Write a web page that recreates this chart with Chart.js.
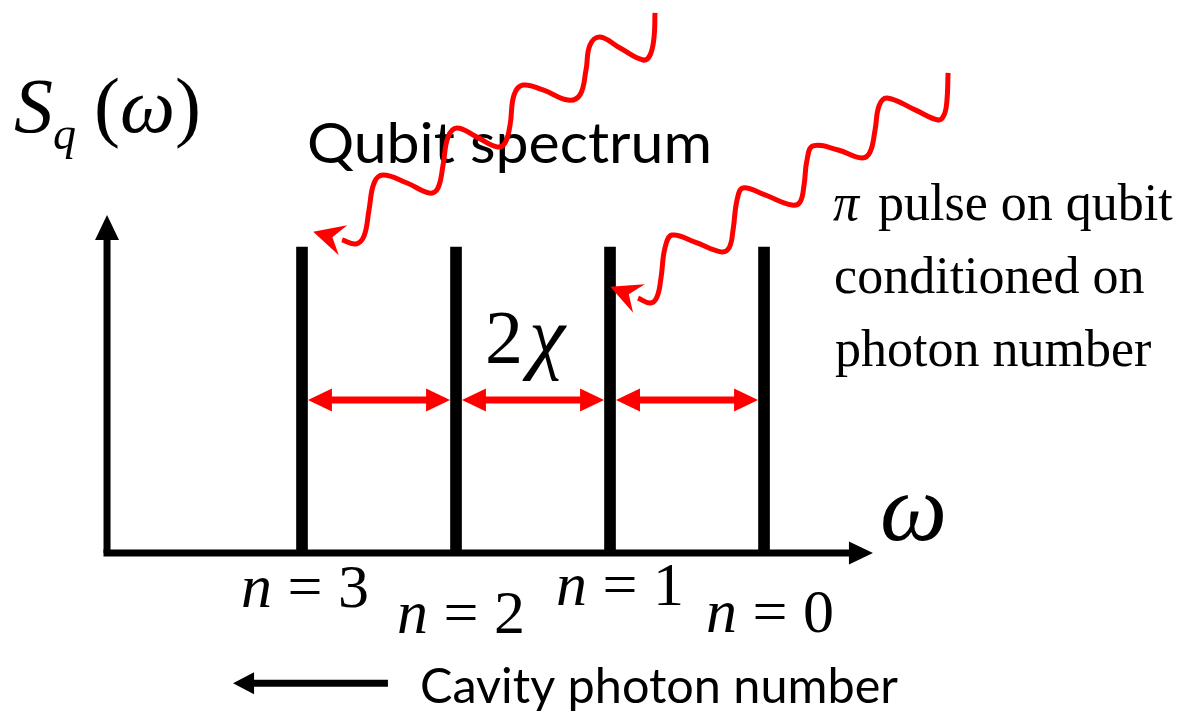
<!DOCTYPE html>
<html>
<head>
<meta charset="utf-8">
<title>Qubit spectrum</title>
<script src="https://cdn.jsdelivr.net/npm/chart.js@4.4.1/dist/chart.umd.min.js"></script>
<style>
  html, body { margin: 0; padding: 0; background: #fff; }
  #chart { display: block; }
</style>
</head>
<body>
<canvas id="chart" width="1184" height="711"></canvas>
<script>
// ========================================
// 데이터: 광자수별 큐빗 스펙트럼 선 (ω 단위 = 2χ)
// ========================================
const photonNumbers = [3, 2, 1, 0];
const peakFreq = [1, 2, 3, 4];
const peakHeight = [1, 1, 1, 1];

// π 펄스 물결선 (n=3 쪽, n=1 쪽)
const pulseToN3 = [
  { x: 3.292, y: 1.765 }, { x: 3.286, y: 1.686 }, { x: 3.260, y: 1.627 }, { x: 3.214, y: 1.611 },
  { x: 3.065, y: 1.650 }, { x: 2.935, y: 1.686 }, { x: 2.870, y: 1.660 }, { x: 2.844, y: 1.578 },
  { x: 2.805, y: 1.497 }, { x: 2.727, y: 1.480 }, { x: 2.565, y: 1.513 }, { x: 2.435, y: 1.529 },
  { x: 2.377, y: 1.497 }, { x: 2.351, y: 1.399 }, { x: 2.318, y: 1.340 }, { x: 2.266, y: 1.327 },
  { x: 2.136, y: 1.359 }, { x: 2.006, y: 1.389 }, { x: 1.948, y: 1.359 }, { x: 1.916, y: 1.268 },
  { x: 1.883, y: 1.193 }, { x: 1.831, y: 1.176 }, { x: 1.682, y: 1.209 }, { x: 1.526, y: 1.235 },
  { x: 1.468, y: 1.209 }, { x: 1.435, y: 1.121 }, { x: 1.403, y: 1.036 }, { x: 1.351, y: 1.010 },
  { x: 1.260, y: 1.023 }
];
const pulseToN1 = [
  { x: 5.195, y: 1.569 }, { x: 5.188, y: 1.480 }, { x: 5.169, y: 1.431 }, { x: 5.130, y: 1.415 },
  { x: 4.981, y: 1.448 }, { x: 4.799, y: 1.487 }, { x: 4.747, y: 1.461 }, { x: 4.721, y: 1.382 },
  { x: 4.688, y: 1.310 }, { x: 4.636, y: 1.291 }, { x: 4.481, y: 1.317 }, { x: 4.318, y: 1.330 },
  { x: 4.279, y: 1.284 }, { x: 4.260, y: 1.203 }, { x: 4.234, y: 1.147 }, { x: 4.182, y: 1.137 },
  { x: 4.006, y: 1.170 }, { x: 3.864, y: 1.193 }, { x: 3.825, y: 1.154 }, { x: 3.799, y: 1.056 },
  { x: 3.773, y: 0.997 }, { x: 3.721, y: 0.984 }, { x: 3.552, y: 1.016 }, { x: 3.403, y: 1.039 },
  { x: 3.357, y: 0.997 }, { x: 3.331, y: 0.899 }, { x: 3.305, y: 0.837 }, { x: 3.260, y: 0.817 },
  { x: 3.182, y: 0.833 }
];

// 축 범위
const X_MIN = -0.961, X_MAX = 6.727;
const Y_MIN = -0.516, Y_MAX = 1.807;
const GAP_Y = 0.5;        // 2χ 화살표 높이
const GAP_INSET = 0.188;  // 화살촉 밑변까지 거리

const RED = '#ff0000';
const SERIF = '"Liberation Serif", "Times New Roman", serif';
const SANS = 'Lato, "Open Sans", sans-serif';

// ========================================
// 텍스트 (위치는 축 단위, 기준선 왼쪽)
// ========================================
const nLabelX = [0.604, 1.617, 2.649, 3.623];
const nLabelY = [-0.176, -0.261, -0.170, -0.258];

const texts = [
  { x: -0.870, y: 1.376, runs: [
    { text: 'S', font: `italic 78px ${SERIF}` },
    { text: 'q', font: `italic 46px ${SERIF}`, dy: 17 },
    { text: '(', font: `78px ${SERIF}`, dx: 18 },
    { text: 'ω', font: `italic 78px ${SERIF}` },
    { text: ')', font: `78px ${SERIF}` }
  ] },
  { x: 1.032, y: 1.275, width: 405, runs: [{ text: 'Qubit spectrum', font: `57px ${SANS}` }] },
  { x: 4.448, y: 1.088, runs: [
    { text: 'π', font: `italic 52px ${SERIF}` },
    { text: ' pulse on qubit', font: `52px ${SERIF}`, dx: 6 }
  ] },
  { x: 4.455, y: 0.850, runs: [{ text: 'conditioned on', font: `52px ${SERIF}` }] },
  { x: 4.461, y: 0.611, runs: [{ text: 'photon number', font: `52px ${SERIF}` }] },
  { x: 2.188, y: 0.621, runs: [
    { text: '2', font: `76px ${SERIF}` },
    { text: 'χ', font: `italic 82px ${SERIF}`, dx: 6 }
  ] },
  { x: 4.753, y: 0.042, runs: [{ text: 'ω', font: `italic 95px ${SERIF}` }] },
  { x: 1.766, y: -0.490, width: 478, runs: [{ text: 'Cavity photon number', font: `48px ${SANS}` }] },
  ...photonNumbers.map((n, i) => ({
    x: nLabelX[i], y: nLabelY[i], runs: [
      { text: 'n', font: `italic 62px ${SERIF}` },
      { text: ' = ' + n, font: `62px ${SERIF}` }
    ]
  }))
];

const textPlugin = {
  id: 'diagramText',
  beforeDatasetsDraw(chart) {
    const { ctx, scales: { x, y } } = chart;
    ctx.save();
    ctx.fillStyle = '#000';
    ctx.textBaseline = 'alphabetic';
    texts.forEach(item => {
      let total = 0;
      item.runs.forEach(r => {
        ctx.font = r.font;
        total += ctx.measureText(r.text).width + (r.dx || 0);
      });
      const sx = item.width ? item.width / total : 1;
      ctx.save();
      ctx.translate(x.getPixelForValue(item.x), y.getPixelForValue(item.y));
      ctx.scale(sx, 1);
      let cx = 0;
      item.runs.forEach(r => {
        ctx.font = r.font;
        cx += r.dx || 0;
        ctx.fillText(r.text, cx, r.dy || 0);
        cx += ctx.measureText(r.text).width;
      });
      ctx.restore();
    });
    ctx.restore();
  }
};

// ========================================
// 화살촉: 마지막 점(밑변)에서 진행 방향으로 그림
// ========================================
function drawHead(ctx, base, from, head, color) {
  const dx = base.x - from.x, dy = base.y - from.y;
  const d = Math.hypot(dx, dy) || 1;
  const ux = dx / d, uy = dy / d;
  const nx = -uy, ny = ux;
  const hw = head.width / 2;
  const back = 1; // 선과 이음새 방지
  ctx.beginPath();
  ctx.moveTo(base.x + ux * head.length, base.y + uy * head.length);
  ctx.lineTo(base.x - ux * back + nx * hw, base.y - uy * back + ny * hw);
  ctx.lineTo(base.x + ux * (head.notch || 0) - ux * back, base.y + uy * (head.notch || 0) - uy * back);
  ctx.lineTo(base.x - ux * back - nx * hw, base.y - uy * back - ny * hw);
  ctx.closePath();
  ctx.fillStyle = color;
  ctx.fill();
}

const arrowPlugin = {
  id: 'arrowHeads',
  afterDatasetDraw(chart, args) {
    const ds = chart.data.datasets[args.index];
    const head = ds.arrowHead;
    if (!head) return;
    const pts = args.meta.data;
    const n = pts.length;
    const ctx = chart.ctx;
    ctx.save();
    if (head.end) drawHead(ctx, pts[n - 1], pts[n - 2], head, ds.borderColor);
    if (head.start) drawHead(ctx, pts[0], pts[1], head, ds.borderColor);
    ctx.restore();
  }
};

// ========================================
// 데이터셋 구성
// ========================================
function wave(data) {
  return {
    data,
    borderColor: RED,
    borderWidth: 5,
    tension: 0.4,
    borderCapStyle: 'butt',
    borderJoinStyle: 'round',
    arrowHead: { end: true, length: 30, width: 31, notch: 11 }
  };
}

function straight(data, color, width, head) {
  return { data, borderColor: color, borderWidth: width, tension: 0, borderCapStyle: 'butt', arrowHead: head };
}

const gapArrows = peakFreq.slice(0, -1).map((f, i) => straight(
  [{ x: f + GAP_INSET, y: GAP_Y }, { x: peakFreq[i + 1] - GAP_INSET, y: GAP_Y }],
  RED, 7, { start: true, end: true, length: 23, width: 23 }
));

const datasets = [
  wave(pulseToN3),
  wave(pulseToN1),
  ...gapArrows,
  {
    type: 'bar',
    data: peakFreq.map((f, i) => ({ x: f, y: peakHeight[i] })),
    backgroundColor: '#000',
    borderWidth: 0,
    barThickness: 11
  },
  // 세로축
  straight([{ x: -0.266, y: 0 }, { x: -0.266, y: 1.026 }], '#000', 7, { end: true, length: 24, width: 24 }),
  // 가로축
  straight([{ x: -0.289, y: 0 }, { x: 4.558, y: 0 }], '#000', 7, { end: true, length: 23, width: 23 }),
  // 광자수 감소 방향
  straight([{ x: 1.558, y: -0.425 }, { x: 0.682, y: -0.425 }], '#000', 7, { end: true, length: 20, width: 22 })
];

new Chart(document.getElementById('chart'), {
  type: 'line',
  data: { datasets },
  options: {
    responsive: false,
    animation: false,
    events: [],
    layout: { padding: 0 },
    elements: { point: { radius: 0, hoverRadius: 0 } },
    plugins: {
      legend: { display: false },
      tooltip: { enabled: false }
    },
    scales: {
      x: { type: 'linear', min: X_MIN, max: X_MAX, display: false, offset: false },
      y: { type: 'linear', min: Y_MIN, max: Y_MAX, display: false }
    }
  },
  plugins: [textPlugin, arrowPlugin]
});
</script>
</body>
</html>
